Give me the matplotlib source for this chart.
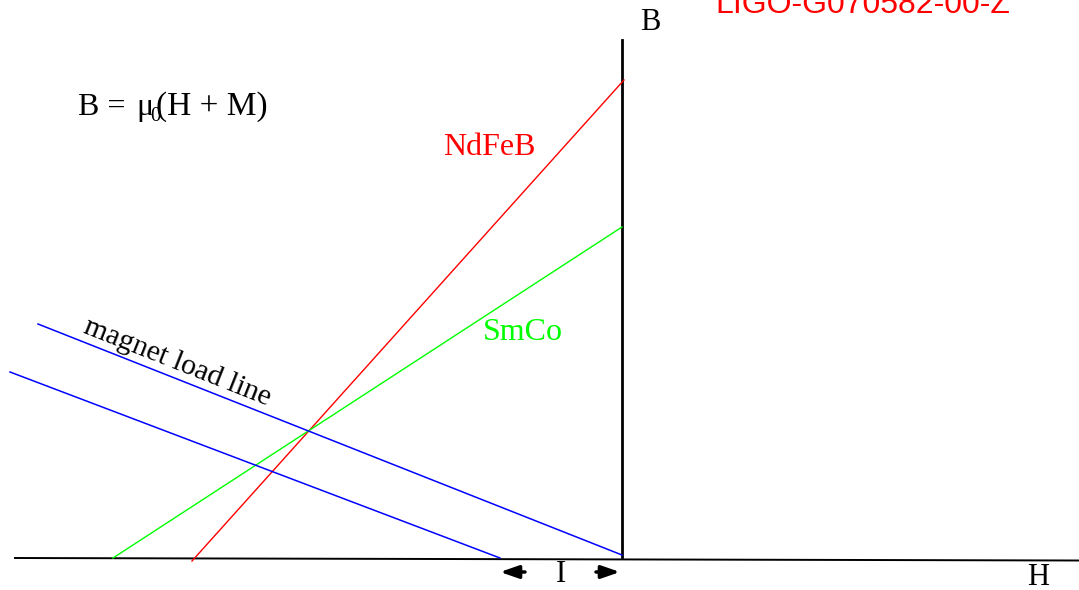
import matplotlib
matplotlib.use("Agg")
import matplotlib.pyplot as plt

# B-H diagram, units ~ pixels from the origin where the axes cross
h_axis = [-607, 456]
h_axis_b = [-1, -3.5]
b_axis = [0, 517]

ndfeb_h = [-430, 2]
ndfeb_b = [-4, 477]
smco_h = [-509, 0]
smco_b = [-1, 330]
load1_h = [-584, 0]
load1_b = [233, 2]
load2_h = [-612, -122]
load2_b = [185, -1]

serif = "Liberation Serif"

fig = plt.figure(figsize=(10.79, 5.90), dpi=100)
ax = fig.add_axes([0, 0, 1, 1])
ax.set_xlim(-622, 457)
ax.set_ylim(-33, 557)
ax.axis("off")

# axes of the diagram
ax.plot(h_axis, h_axis_b, color="black", lw=1.4)
ax.plot([0, 0], b_axis, color="black", lw=2)

ax.plot(ndfeb_h, ndfeb_b, color="#ff0000", lw=1)
ax.plot(smco_h, smco_b, color="#00ff00", lw=1)
ax.plot(load1_h, load1_b, color="#0000ff", lw=1.1)
ax.plot(load2_h, load2_b, color="#0000ff", lw=1.1)

ax.text(-179, 402, "NdFeB", color="#ff0000", fontsize=23, family=serif)
ax.text(-139, 217, "SmCo", color="#00ff00", fontsize=23, family=serif)
ax.text(-540, 225, "magnet load line", fontsize=21.5, family=serif,
        rotation=-21.6, rotation_mode="anchor", ha="left", va="baseline")

# formula
ax.text(-544, 442, "B =", fontsize=23, family=serif)
ax.text(-486, 442, "\u03bc", fontsize=23, family=serif)
ax.text(-472, 436, "0", fontsize=15, family=serif)
ax.text(-466, 442, "(H + M)", fontsize=24, family=serif)

ax.text(18, 527, "B", fontsize=22, family=serif)
ax.text(405, -28, "H", fontsize=22, family=serif)
ax.text(-61, -25, "I", fontsize=22, family=serif, ha="center")

ax.text(93, 544, "LIGO-G070582-00-Z", color="#ff0000", fontsize=23,
        family="Liberation Sans")

# width arrows
arrow = dict(arrowstyle="-|>,head_length=1.1,head_width=0.38", color="black",
             lw=2.5, shrinkA=0, shrinkB=0, mutation_scale=10)
ax.annotate("", xy=(-122, -15), xytext=(-97, -15), arrowprops=arrow)
ax.annotate("", xy=(-2, -15), xytext=(-26, -15), arrowprops=arrow)

fig.savefig("out.png", dpi=100)
